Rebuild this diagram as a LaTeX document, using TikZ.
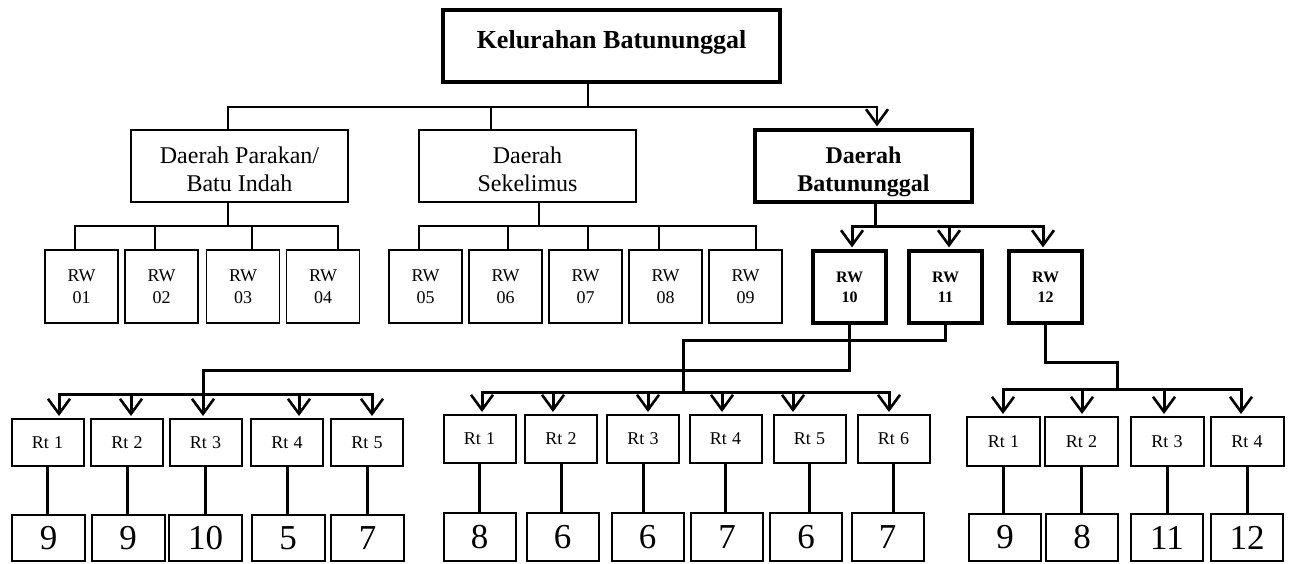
\documentclass[tikz,border=0pt]{standalone}
\usepackage{fontspec}
\setmainfont{Liberation Serif}
\usetikzlibrary{arrows.meta}
\tikzset{
  bx/.style 2 args={draw, inner sep=0pt, minimum width=#1, minimum height=#2, align=center},
  thinbox/.style={line width=1.6pt},
  midbox/.style={line width=2pt},
  thickbox/.style={line width=3.2pt},
  thinl/.style={line width=1.6pt},
  thickl/.style={line width=3pt},
  arr/.style={-{Straight Barb[length=15pt,width=22pt,line width=2.6pt]}, shorten >=2pt},
  fkel/.style={font=\fontsize{26}{30}\selectfont\bfseries},
  fdae/.style={font=\fontsize{24}{28}\selectfont},
  fdaeb/.style={font=\fontsize{24}{28}\selectfont\bfseries},
  frw/.style={font=\fontsize{18}{22}\selectfont},
  frwb/.style={font=\fontsize{16}{20}\selectfont\bfseries},
  frt/.style={font=\fontsize{18}{20}\selectfont},
  fnum/.style={font=\fontsize{35}{40}\selectfont},
}
\newcommand\rtlabel[1]{Rt\hspace{0.3em}#1}
\begin{document}
\begin{tikzpicture}[x=1pt,y=-1pt]
\useasboundingbox (0,0) rectangle (1290,563);
% top level
\node[bx={337pt}{72pt}, thickbox, fkel, text height=17pt, text depth=13pt] (kel) at (611.5,46) {Kelurahan Batununggal};
\node[bx={217pt}{72pt}, thinbox, fdae] (pk) at (239.5,166) {\rule{0pt}{24pt}Daerah Parakan/\\Batu Indah};
\node[bx={217pt}{72pt}, thinbox, fdae] (sk) at (527.5,166) {\rule{0pt}{24pt}Daerah\\Sekelimus};
\node[bx={217pt}{72pt}, thickbox, fdaeb] (bt) at (863.5,166) {\rule{0pt}{29pt}Daerah\\Batununggal};
% RW boxes
\foreach \n/\x/\t in {1/81.5/01,2/161.5/02,3/243/03,4/323/04,5/425.5/05,6/505.5/06,7/585.5/07,8/665.5/08,9/745.5/09}
  \node[bx={73pt}{73pt}, thinbox, frw] (rw\n) at (\x,286.5) {RW\\\t};
\foreach \n/\x in {10/849.5,11/945.5,12/1045.5}
  \node[bx={73pt}{72pt}, thickbox, frwb] (rw\n) at (\x,287) {RW\\\n};
% Rt boxes and number boxes
\foreach \n/\x/\nx/\v in {1/47.5/48.5/9,2/127/128/9,3/205.5/205.5/10,4/287/288/5,5/367/367.5/7}{
  \node[bx={72pt}{47pt}, midbox, frt] (a\n) at (\x,442.5) {\rtlabel{\n}};
  \node[bx={73pt}{46pt}, midbox, fnum] (na\n) at (\nx,538) {\v};
  \draw[thickl] (a\n.south) -- (a\n.south |- na\n.north);
}
\foreach \n/\x/\nx/\v in {1/479.5/479.5/8,2/561/562.5/6,3/643/647.5/6,4/725.5/727/7,5/809.5/806/6,6/893.5/887.5/7}{
  \node[bx={72pt}{48pt}, midbox, frt] (b\n) at (\x,439) {\rtlabel{\n}};
  \node[bx={72pt}{48pt}, midbox, fnum] (nb\n) at (\nx,537) {\v};
  \draw[thickl] (b\n.south) -- (b\n.south |- nb\n.north);
}
\foreach \n/\x/\nx/\v in {1/1003.5/1005/9,2/1081.5/1082/8,3/1167/1167/11,4/1247/1247/12}{
  \node[bx={73pt}{49pt}, midbox, frt] (c\n) at (\x,441.5) {\rtlabel{\n}};
  \node[bx={72pt}{47pt}, midbox, fnum] (nc\n) at (\nx,537.5) {\v};
  \draw[thickl] (c\n.south) -- (c\n.south |- nc\n.north);
}
% top connectors
\coordinate (T0) at (588,107);
\coordinate (T1) at (228,107);
\coordinate (T2) at (491,107);
\coordinate (T3) at (877,107);
\draw[thinl] (kel.south -| T0) -- (T0);
\draw[thinl, line cap=rect] (T1 |- pk.north) -- (T1) -- (T3);
\draw[thinl] (T2) -- (T2 |- sk.north);
\draw[thinl, arr] (T3) -- (T3 |- bt.north);
% Parakan -> RW01-04
\coordinate (P0) at (228,226);
\draw[thinl] (pk.south -| P0) -- (P0);
\foreach \n/\x in {1/75,2/155,3/252,4/338}{
  \coordinate (P\n) at (\x,226);
  \draw[thinl] (P\n) -- (P\n |- rw\n.north);
}
\draw[thinl, line cap=rect] (P1) -- (P4);
% Sekelimus -> RW05-09
\coordinate (S0) at (539,226);
\draw[thinl] (sk.south -| S0) -- (S0);
\foreach \n/\x in {5/419,6/508,7/588,8/659,9/756}{
  \coordinate (S\n) at (\x,226);
  \draw[thinl] (S\n) -- (S\n |- rw\n.north);
}
\draw[thinl, line cap=rect] (S5) -- (S9);
% Batununggal -> RW10-12
\coordinate (B0) at (875,226);
\draw[thickl] (bt.south -| B0) -- (B0);
\foreach \n/\x in {10/852,11/949,12/1043}{
  \coordinate (B\n) at (\x,226);
  \draw[thickl, arr] (B\n) -- (B\n |- rw\n.north);
}
\draw[thickl, line cap=rect] (B10) -- (B12);
% RW10 -> left group
\coordinate (L0) at (203,370);
\foreach \n/\x in {1/59,2/131,3/203,4/299,5/372}{
  \coordinate (La\n) at (\x,394);
  \draw[thickl, arr] (La\n) -- (La\n |- a\n.north);
}
\draw[thickl, line cap=rect] (La1) -- (La5);
\draw[thickl] (rw10.south) |- (L0) -- (La3);
% RW11 -> middle group
\coordinate (M0) at (683,340);
\foreach \n/\x in {1/482,2/553,3/648,4/722,5/793,6/889}{
  \coordinate (Mb\n) at (\x,392);
  \draw[thickl, arr] (Mb\n) -- (Mb\n |- b\n.north);
}
\draw[thickl, line cap=rect] (Mb1) -- (Mb6);
\draw[thickl] (rw11.south) |- (M0) -- (M0 |- Mb1);
% RW12 -> right group
\coordinate (R0) at (1117,362);
\foreach \n/\x in {1/1003,2/1082,3/1164,4/1241}{
  \coordinate (Rb\n) at (\x,389);
  \draw[thickl, arr] (Rb\n) -- (Rb\n |- c\n.north);
}
\draw[thickl, line cap=rect] (Rb1) -- (Rb4);
\draw[thickl] (rw12.south) |- (R0) -- (R0 |- Rb1);
\end{tikzpicture}
\end{document}
